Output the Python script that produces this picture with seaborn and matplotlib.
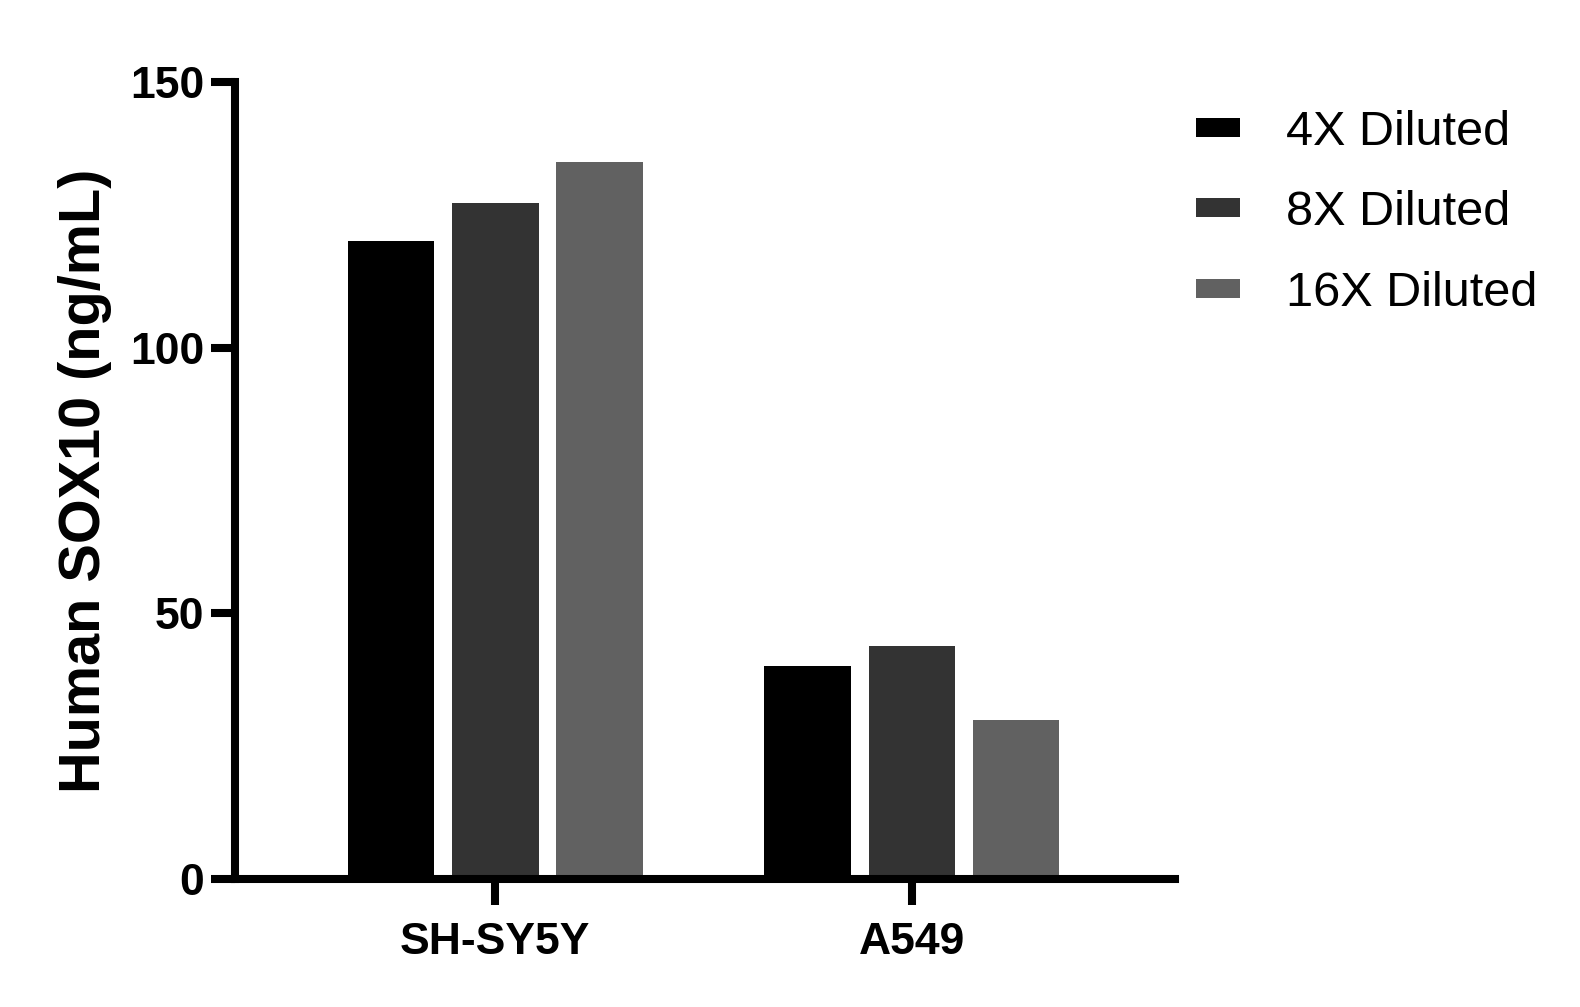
import matplotlib
matplotlib.use("Agg")
import matplotlib.pyplot as plt
import seaborn as sns
import pandas as pd

# ---- data ----
cell_lines = ["SH-SY5Y", "A549"]
dilutions = ["4X Diluted", "8X Diluted", "16X Diluted"]
values_4x = [120.0, 40.0]
values_8x = [127.2, 43.8]
values_16x = [135.0, 30.0]
y_ticks = [0, 50, 100, 150]
y_label = "Human SOX10 (ng/mL)"

colors = ["#000000", "#333333", "#616161"]

rows = []
for dil, vals in zip(dilutions, [values_4x, values_8x, values_16x]):
    for cl, v in zip(cell_lines, vals):
        rows.append({"Cell line": cl, "Dilution": dil, "Value": v})
df = pd.DataFrame(rows)

sns.set_theme(style="ticks")
plt.rcParams["font.family"] = ["Liberation Sans", "DejaVu Sans"]
for k in ["text.color", "axes.labelcolor", "xtick.color", "ytick.color",
          "xtick.labelcolor", "ytick.labelcolor"]:
    plt.rcParams[k] = "black"

fig = plt.figure(figsize=(15.8, 10.07), dpi=100)
ax = fig.add_axes([235 / 1580, 1 - 879 / 1007, (1175 - 235) / 1580, (879 - 82) / 1007])

sns.barplot(data=df, x="Cell line", y="Value", hue="Dilution",
            order=cell_lines, hue_order=dilutions,
            palette=colors, width=0.75, gap=0.17, linewidth=0,
            saturation=1, ax=ax)

ax.set_xlim(-0.625, 1.632)
ax.set_ylim(0, 150)
ax.set_yticks(y_ticks)
ax.set_yticklabels([str(t) for t in y_ticks])

for s in ["top", "right"]:
    ax.spines[s].set_visible(False)
for s in ["left", "bottom"]:
    ax.spines[s].set_linewidth(5.8)
    ax.spines[s].set_color("black")
    ax.spines[s].set_capstyle("projecting")

ax.tick_params(axis="both", width=5.8, color="black")
ax.tick_params(axis="y", length=17, pad=5, labelsize=32)
ax.tick_params(axis="x", length=19, pad=12, labelsize=32)
for lab in ax.get_xticklabels() + ax.get_yticklabels():
    lab.set_fontweight("bold")

ax.set_xlabel("")
ax.set_ylabel(y_label, fontsize=41.5, fontweight="bold")
ax.yaxis.set_label_coords(-0.131, 0.5)

handles, labels = ax.get_legend_handles_labels()
ax.legend(handles, labels, loc="upper left", frameon=False,
          bbox_to_anchor=(1196 / 1580, 1 - 110 / 1007),
          bbox_transform=fig.transFigure,
          borderaxespad=0, borderpad=0,
          fontsize=35, handlelength=0.9, handleheight=0.22,
          handletextpad=0.95, labelspacing=0.73)

ax.set_facecolor("white")
fig.patch.set_facecolor("white")
fig.savefig("out.png", dpi=100)
